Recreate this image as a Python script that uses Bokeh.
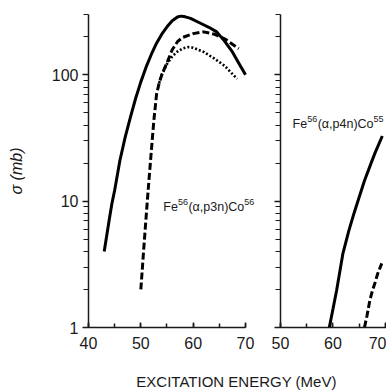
from bokeh.plotting import figure
from bokeh.layouts import column, row
from bokeh.models import Label, SingleIntervalTicker, LogTicker, PrintfTickFormatter
from bokeh.embed import file_html
from bokeh.resources import INLINE

# Fe56(alpha, p3n)Co56 excitation functions (cross-section in mb vs excitation energy in MeV)
p3n_solid_e = [43.0, 44.0, 44.5, 45.0, 46.0, 47.0, 48.0, 49.0, 50.0, 51.0, 52.0, 53.0, 54.0,
               55.0, 56.0, 57.0, 57.6, 58.5, 59.5, 61.5, 63.0, 64.5, 66.0, 67.5, 69.0, 70.0]
p3n_solid_s = [4.0, 7.3, 9.7, 12.2, 21.0, 32.0, 46.0, 65.0, 88.0, 115.0, 145.0, 178.0, 210.0,
               240.0, 268.0, 287.0, 292.0, 288.0, 280.0, 255.0, 238.0, 219.0, 185.0, 152.0, 118.0, 100.0]

p3n_dashed_e = [50.0, 50.5, 51.0, 51.5, 52.0, 52.5, 53.0, 53.5, 54.0, 55.0, 56.0, 57.0, 58.0,
                60.0, 62.0, 64.0, 66.0, 68.7]
p3n_dashed_s = [2.0, 3.9, 7.4, 13.8, 24.8, 44.0, 70.0, 86.0, 100.0, 125.0, 158.0, 183.0, 198.0,
                212.0, 219.0, 210.0, 193.0, 161.0]

p3n_dotted_e = [53.5, 54.0, 55.0, 56.0, 57.0, 58.0, 59.0, 60.0, 62.0, 64.0, 66.0, 68.4]
p3n_dotted_s = [86.0, 100.0, 122.0, 140.0, 153.0, 162.0, 166.0, 164.0, 152.0, 135.0, 118.0, 93.0]

# Fe56(alpha, p4n)Co55
p4n_solid_e = [59.3, 60.0, 60.7, 61.9, 63.0, 64.0, 65.0, 66.0, 67.3, 68.0, 69.4]
p4n_solid_s = [1.0, 1.4, 1.97, 3.87, 5.8, 8.0, 10.8, 14.5, 20.2, 24.0, 32.8]

p4n_dashed_e = [66.0, 66.5, 67.0, 67.5, 68.0, 68.5, 69.3]
p4n_dashed_s = [1.0, 1.25, 1.62, 1.95, 2.25, 2.65, 3.22]

# reaction labels, split into (text, is_superscript) pieces
p3n_label = [("Fe", False), ("56", True), ("(α,p3n)Co", False), ("56", True)]
p4n_label = [("Fe", False), ("56", True), ("(α,p4n)Co", False), ("55", True)]

x_ticks_interval = 10
left_xrange = (40, 73.44)
left_axis_bounds = (40, 70)
right_xrange = (50, 70.2)
y_range = (1, 300.5)

FONT = "Liberation Sans"
INK = "#1a1a1a"
BASE_PX = 12.5
SUP_PX = 9.0

# approximate advance widths (em) for Liberation Sans
ADV = {"F": 0.611, "e": 0.556, "(": 0.333, ")": 0.333, "α": 0.578, ",": 0.278,
       "p": 0.556, "n": 0.556, "C": 0.722, "o": 0.556}


def text_width(s, px):
    return sum(ADV.get(ch, 0.556) for ch in s) * px


def add_formula(p, x, y, pieces):
    dx = 0.0
    for txt, sup in pieces:
        size = SUP_PX if sup else BASE_PX
        p.add_layout(Label(x=x, y=y, x_offset=dx, y_offset=5 if sup else 0, text=txt,
                           text_font=FONT, text_font_size=f"{size}px", text_color=INK,
                           text_baseline="middle", text_align="left"))
        dx += text_width(txt, size) + (0.5 if sup else 0.0)


def style_axes(p, show_y_labels):
    p.xgrid.visible = False
    p.ygrid.visible = False
    p.outline_line_color = None
    p.background_fill_color = "white"
    p.border_fill_color = "white"

    xa = p.xaxis[0]
    xa.ticker = SingleIntervalTicker(interval=x_ticks_interval, num_minor_ticks=2)
    xa.axis_line_color = INK
    xa.axis_line_width = 1.5
    xa.major_tick_line_color = INK
    xa.minor_tick_line_color = INK
    xa.major_tick_line_width = 1.5
    xa.minor_tick_line_width = 1.5
    xa.major_tick_in = 5
    xa.major_tick_out = 0
    xa.minor_tick_in = 4
    xa.minor_tick_out = 0
    xa.major_label_standoff = 9
    xa.major_label_text_font = FONT
    xa.major_label_text_font_size = "16px"
    xa.major_label_text_color = INK

    ya = p.yaxis[0]
    ya.ticker = LogTicker(num_minor_ticks=10)
    ya.axis_line_color = INK
    ya.axis_line_width = 1.5
    ya.major_tick_line_color = INK
    ya.minor_tick_line_color = INK
    ya.major_tick_line_width = 1.5
    ya.minor_tick_line_width = 1.2
    ya.major_tick_in = 0
    ya.major_tick_out = 6
    ya.minor_tick_in = 0
    ya.minor_tick_out = 5
    ya.formatter = PrintfTickFormatter(format="%d")
    ya.major_label_standoff = 4
    ya.major_label_text_font = FONT
    ya.major_label_text_font_size = "16px"
    ya.major_label_text_color = INK
    if not show_y_labels:
        ya.major_label_overrides = {1: "", 10: "", 100: ""}


left = figure(frame_width=175, frame_height=313, x_range=left_xrange, y_range=y_range,
              y_axis_type="log", output_backend="svg", toolbar_location=None,
              min_border_left=88, min_border_right=2, min_border_top=14, min_border_bottom=30)
style_axes(left, True)
left.xaxis[0].bounds = left_axis_bounds
left.yaxis[0].axis_label = "σ (mb)"
left.yaxis[0].axis_label_text_font = FONT
left.yaxis[0].axis_label_text_font_style = "italic"
left.yaxis[0].axis_label_text_font_size = "16px"
left.yaxis[0].axis_label_text_color = INK
left.yaxis[0].axis_label_standoff = 24

left.line(p3n_solid_e, p3n_solid_s, line_color="black", line_width=3)
left.line(p3n_dashed_e, p3n_dashed_s, line_color="black", line_width=3, line_dash="7 3")
left.line(p3n_dotted_e, p3n_dotted_s, line_color="black", line_width=2.6, line_dash="2 2")

add_formula(left, 54.3, 9.0, p3n_label)

right = figure(frame_width=106, frame_height=313, x_range=right_xrange, y_range=y_range,
               y_axis_type="log", output_backend="svg", toolbar_location=None,
               min_border_left=15, min_border_right=0, min_border_top=14, min_border_bottom=30)
style_axes(right, False)

right.line(p4n_solid_e, p4n_solid_s, line_color="black", line_width=3)
right.line(p4n_dashed_e, p4n_dashed_s, line_color="black", line_width=3, line_dash="7 3")

add_formula(right, 52.3, 40.7, p4n_label)

caption = figure(width=386, height=33, output_backend="svg", toolbar_location=None,
                 x_axis_type=None, y_axis_type=None, min_border=0,
                 x_range=(0, 1), y_range=(0, 1))
caption.outline_line_color = None
caption.add_layout(Label(x=236, y=9, x_units="screen", y_units="screen",
                         text="EXCITATION ENERGY (MeV)", text_font=FONT,
                         text_font_size="15px", text_color=INK,
                         text_align="center", text_baseline="middle"))

layout = column(row(left, right), caption)

open("out.html", "w").write(file_html(layout, INLINE))
